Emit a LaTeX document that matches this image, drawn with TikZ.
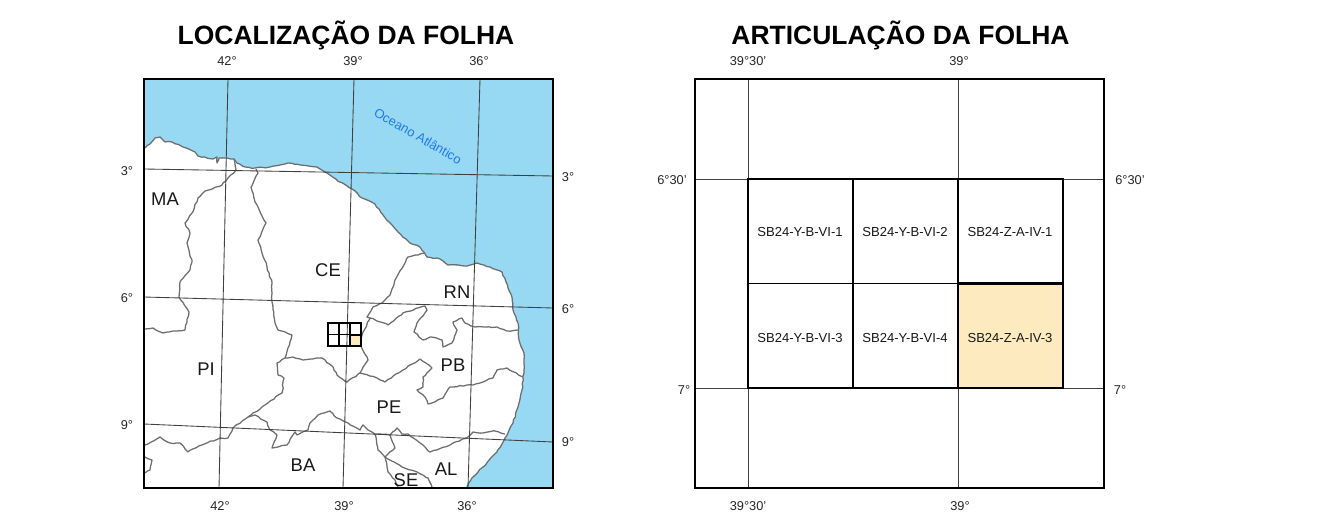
\documentclass[tikz,border=0pt]{standalone}
\usepackage{fontspec}
\usetikzlibrary{decorations.pathmorphing}
\setmainfont{Liberation Sans}
\definecolor{sea}{HTML}{97D9F3}
\definecolor{sheet}{HTML}{FDEBBF}
\definecolor{border}{HTML}{6E6E6E}
\definecolor{oceanblue}{HTML}{1F78F0}
\tikzset{
  px/.style={x=0.75pt,y=-0.75pt},
  title/.style={font=\bfseries\fontsize{19.85}{24}\selectfont,text=black,inner sep=0pt},
  tick/.style={font=\fontsize{9.6}{11}\selectfont,text=black!85,inner sep=0pt},
  state/.style={font=\fontsize{13.8}{16}\selectfont,text=black!90,inner sep=0pt},
  cell/.style={font=\fontsize{9.8}{11}\selectfont,text=black!90,inner sep=0pt},
  frame/.style={draw=black,line width=2.2pt},
  graticule/.style={draw=black!75,line width=0.65pt},
  statel/.style={draw=border,line width=0.95pt,line join=round,decorate,decoration={random steps,segment length=2.6pt,amplitude=0.45pt}},
  sheetgrid/.style={draw=black,line width=1.05pt},
}
\begin{document}
\begin{tikzpicture}[px]
\useasboundingbox (0,0) rectangle (1323,531);
\fill[white] (0,0) rectangle (1323,531);
% sea
\fill[sea] (144,79) -- (144,148) -- (150,144) -- (155,138) -- (160,137) -- (165,142) -- (172,142) -- (183,147) -- (195,152) -- (198,156) -- (213,159) -- (217,157) -- (217,163) -- (219,158) -- (227,158) -- (234,159) -- (237,163) -- (245,167) -- (255,168) -- (270,167) -- (288,163) -- (300,165) -- (317,167) -- (327,173) -- (340,182) -- (352,189) -- (362,198) -- (375,204) -- (383,215) -- (398,232) -- (410,243) -- (420,247) -- (427,257) -- (440,259) -- (448,265) -- (467,266) -- (477,263) -- (490,267) -- (502,272) -- (508,288) -- (512,297) -- (513,310) -- (518,323) -- (519,340) -- (524,353) -- (524,370) -- (522,390) -- (518,407) -- (513,423) -- (505,438) -- (497,452) -- (483,467) -- (472,478) -- (467,488) -- (553,488) -- (553,79) -- cycle;
% coast
\draw[statel] (145,148) -- (150,144) -- (155,138) -- (160,137) -- (165,142) -- (172,142) -- (183,147) -- (195,152) -- (198,156) -- (213,159) -- (217,157) -- (217,163) -- (219,158) -- (227,158) -- (234,159) -- (237,163) -- (245,167) -- (255,168) -- (270,167) -- (288,163) -- (300,165) -- (317,167) -- (327,173) -- (340,182) -- (352,189) -- (362,198) -- (375,204) -- (383,215) -- (398,232) -- (410,243) -- (420,247) -- (427,257) -- (440,259) -- (448,265) -- (467,266) -- (477,263) -- (490,267) -- (502,272) -- (508,288) -- (512,297) -- (513,310) -- (518,323) -- (519,340) -- (524,353) -- (524,370) -- (522,390) -- (518,407) -- (513,423) -- (505,438) -- (497,452) -- (483,467) -- (472,478) -- (467,487);
% state borders
\draw[statel] (234,159) -- (236,170) -- (228,178) -- (222,185) -- (205,191) -- (198,198) -- (192,213) -- (185,223) -- (190,233) -- (187,243) -- (192,262) -- (190,270) -- (180,282) -- (179,297) -- (189,312) -- (185,330) -- (173,331) -- (163,333) -- (153,328) -- (145,329);
\draw[statel] (256,169) -- (258,173) -- (251,187) -- (255,202) -- (266,223) -- (258,240) -- (267,267) -- (272,283) -- (272,302) -- (275,323) -- (278,330) -- (292,335) -- (285,358) -- (277,363) -- (278,375) -- (284,378) -- (282,393) -- (265,405) -- (248,417) -- (233,428) -- (228,438) -- (220,438) -- (202,445) -- (188,452) -- (180,443) -- (170,443) -- (160,437) -- (145,445);
\draw[statel] (145,457) -- (152,460) -- (150,470) -- (145,473);
\draw[statel] (285,358) -- (293,357) -- (303,360) -- (322,358) -- (333,367) -- (337,375) -- (347,382) -- (360,373) -- (368,360) -- (360,343) -- (363,332) -- (370,318) -- (367,317) -- (373,307) -- (382,303) -- (390,295) -- (395,280) -- (408,257) -- (425,253);
\draw[statel] (370,318) -- (388,325) -- (403,313) -- (425,306) -- (427,310) -- (417,323) -- (414,332) -- (423,340) -- (430,337) -- (442,340) -- (443,347) -- (452,343) -- (457,330) -- (453,322) -- (462,318) -- (465,323) -- (475,327) -- (497,327) -- (507,331) -- (518,330);
\draw[statel] (360,373) -- (377,378) -- (385,382) -- (403,370) -- (420,359) -- (432,368) -- (423,377) -- (423,387) -- (417,390) -- (425,397) -- (428,404) -- (443,398) -- (450,387) -- (473,385) -- (493,378) -- (497,370) -- (507,368) -- (523,377);
\draw[statel] (248,417) -- (255,415) -- (267,422) -- (270,430) -- (277,435) -- (272,448) -- (287,445) -- (295,432) -- (297,435) -- (308,430) -- (310,423) -- (318,415) -- (330,411) -- (337,418) -- (348,423) -- (360,430) -- (363,425) -- (368,430) -- (375,434) -- (390,435) -- (397,428) -- (402,434) -- (408,434) -- (420,443) -- (430,452) -- (450,445) -- (468,437) -- (473,432) -- (483,433) -- (495,431) -- (505,434);
\draw[statel] (375,434) -- (378,450) -- (385,457) -- (395,448) -- (390,435);
\draw[statel] (385,457) -- (388,472) -- (395,480) -- (398,487);
\draw[statel] (385,457) -- (402,467) -- (417,472) -- (428,478) -- (432,487);
% graticule left
\coordinate (p3w) at (144,169); \coordinate (p3e) at (553,176);
\coordinate (p6w) at (144,297); \coordinate (p6e) at (553,308);
\coordinate (p9w) at (144,424); \coordinate (p9e) at (553,442);
\coordinate (m42n) at (228,79); \coordinate (m42s) at (219,488);
\coordinate (m39n) at (354,79); \coordinate (m39s) at (343,488);
\coordinate (m36n) at (480,79); \coordinate (m36s) at (468,488);
\draw[graticule] (p3w) -- (p3e); \draw[graticule] (p6w) -- (p6e); \draw[graticule] (p9w) -- (p9e);
\draw[graticule] (m42n) -- (m42s); \draw[graticule] (m39n) -- (m39s); \draw[graticule] (m36n) -- (m36s);
% small locator
\fill[sheet] (350,334.5) rectangle (361,346);
\draw[line width=0.8pt,draw=black] (328,323) rectangle (361,346) (339,323) -- (339,346) (350,323) -- (350,346) (328,334.5) -- (361,334.5);
\draw[line width=1.5pt,draw=black] (350,334.5) rectangle (361,346);
\draw[frame] (144,79) rectangle (553,488);
% left labels
\node[title] (t1) at (346,35) {LOCALIZAÇÃO DA FOLHA};
\node[tick] at (227,61) {42°}; \node[tick] at (353,61) {39°}; \node[tick] at (479,61) {36°};
\node[tick] at (220,506) {42°}; \node[tick] at (344,506) {39°}; \node[tick] at (467,506) {36°};
\node[tick] at (127,171) {3°}; \node[tick] at (127,298) {6°}; \node[tick] at (127,425) {9°};
\node[tick] at (568,177) {3°}; \node[tick] at (568,309) {6°}; \node[tick] at (568,442) {9°};
\node[state] at (165,199) {MA}; \node[state] at (328,270) {CE}; \node[state] at (457,292) {RN};
\node[state] at (206,369) {PI}; \node[state] at (453,365) {PB}; \node[state] at (389,407) {PE};
\node[state] at (303,465) {BA}; \node[state] at (446,469) {AL}; \node[state] at (406,480) {SE};
\node[font=\fontsize{9.7}{11}\selectfont,text=oceanblue,inner sep=0pt,rotate=-30] at (418,136) {Oceano Atlântico};
% right map
\fill[sheet] (958,283.5) rectangle (1063,388);
\coordinate (gw1) at (695,179); \coordinate (ge1) at (1104,179);
\coordinate (gw2) at (695,388); \coordinate (ge2) at (1104,388);
\coordinate (gn1) at (748,79); \coordinate (gs1) at (748,488);
\coordinate (gn2) at (958,79); \coordinate (gs2) at (958,488);
\draw[graticule] (gw1) -- (ge1); \draw[graticule] (gw2) -- (ge2);
\draw[graticule] (gn1) -- (gs1); \draw[graticule] (gn2) -- (gs2);
\draw[sheetgrid] (748,179) rectangle (1063,388) (853,179) -- (853,388) (958,179) -- (958,388) (748,283.5) -- (1063,283.5);
\draw[line width=1.7pt] (958,283.5) rectangle (1063,388);
\draw[frame] (695,79) rectangle (1104,488);
\node[title] (t2) at (900.5,35) {ARTICULAÇÃO DA FOLHA};
\node[tick] at (748,61) {39°30'}; \node[tick] at (959,61) {39°};
\node[tick] at (748,506) {39°30'}; \node[tick] at (960,506) {39°};
\node[tick] at (672,180) {6°30'}; \node[tick] at (684,390) {7°};
\node[tick] at (1130,180) {6°30'}; \node[tick] at (1120,390) {7°};
\node[cell] at (800,232) {SB24-Y-B-VI-1}; \node[cell] at (905,232) {SB24-Y-B-VI-2}; \node[cell] at (1010,232) {SB24-Z-A-IV-1};
\node[cell] at (800,338) {SB24-Y-B-VI-3}; \node[cell] at (905,338) {SB24-Y-B-VI-4}; \node[cell] at (1010,338) {SB24-Z-A-IV-3};
\end{tikzpicture}
\end{document}
